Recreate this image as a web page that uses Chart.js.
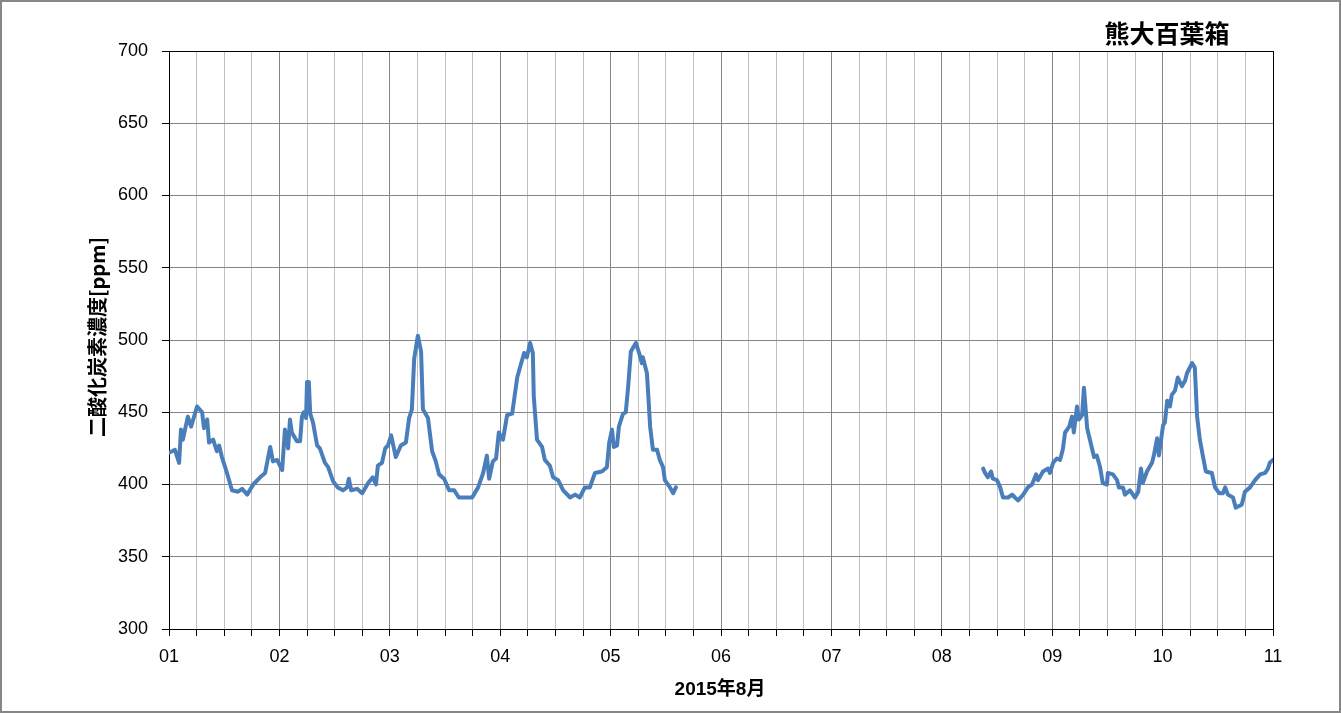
<!DOCTYPE html>
<html>
<head>
<meta charset="utf-8">
<script src="https://cdn.jsdelivr.net/npm/chart.js@4"></script>
<style>
  html, body { margin: 0; padding: 0; background: #fff; }
  #wrap { width: 1341px; height: 713px; }
</style>
</head>
<body>
<div id="wrap"><canvas id="co2Chart" width="1341" height="713"></canvas></div>
<script>
// hours since 2015-08-01 00:00, and CO2 ppm
const hours1 = [0,1.3,2.2,2.6,3.0,4.1,4.8,6.1,7.2,7.6,8.3,8.7,9.6,10.4,10.9,11.5,12.6,13.7,15.0,15.9,17.0,18.3,19.8,20.9,22.0,22.6,23.5,
  24.6,25.2,25.9,26.3,26.7,27.8,28.5,28.9,29.3,29.8,30.0,30.4,30.7,31.3,32.2,32.8,33.9,34.6,35.7,36.7,37.8,38.7,39.1,39.6,40.9,42.0,43.3,44.3,45.0,45.4,46.3,47.0,47.6,
  48.3,49.3,50.4,51.5,52.2,52.8,53.3,54.1,54.8,55.2,56.3,57.2,58.0,58.7,59.8,60.9,62.0,63.0,64.6,65.9,67.2,68.3,69.1,69.6,70.4,71.1,71.7,
  72.6,73.5,74.6,75.7,76.3,77.2,77.8,78.5,79.1,79.3,80.0,81.1,81.7,82.8,83.5,84.6,85.7,87.2,88.3,89.3,90.4,91.5,92.6,94.1,95.2,95.7,
  96.3,96.7,97.4,97.8,98.7,99.3,99.8,100.4,101.5,102.2,102.8,103.0,103.9,104.6,105.2,106.1,106.7,107.4,107.8,108.9,109.6,110.2];
const co2a = [422,424,415,438,431,447,440,454,450,439,445,429,431,423,427,419,408,396,395,397,393,400,405,408,426,416,417,
  410,438,425,445,436,430,430,447,450,446,471,471,449,443,427,425,415,412,402,398,396,398,404,396,397,394,401,405,400,413,415,425,427,
  434,419,427,429,446,452,487,503,492,452,446,423,416,407,404,396,396,391,391,391,398,408,420,404,416,418,436,
  431,448,449,474,481,491,488,498,491,461,431,426,417,413,405,403,396,391,393,391,398,398,408,409,412,429,
  438,426,427,440,449,450,467,492,498,491,484,488,477,440,424,424,417,412,403,398,394,398];

const hours2 = [177.0,177.4,178.0,178.7,179.1,180.0,180.7,181.3,182.4,183.3,183.9,184.6,185.7,186.7,187.6,188.5,188.9,190.0,191.1,191.5,
  192.2,193.0,193.7,194.3,194.8,195.7,196.3,196.7,197.4,197.8,198.5,198.9,199.6,200.2,201.1,201.7,202.4,203.0,203.9,204.1,205.2,206.1,206.5,207.4,207.8,208.9,210.0,210.7,211.3,211.7,212.6,213.7,214.1,214.8,215.2,
  216.1,216.5,217.0,217.6,218.0,218.7,219.3,220.2,220.9,221.3,222.4,223.0,223.5,224.1,224.8,225.4,226.7,227.4,228.3,229.1,229.6,230.2,231.3,231.9,233.2,233.9,235.0,236.1,237.2,238.3,238.9,239.3,240.0];
const co2b = [411,408,405,409,404,403,398,391,391,393,391,389,393,398,400,407,403,409,411,408,
  415,418,417,424,436,440,447,436,454,445,448,467,439,431,419,420,412,401,400,408,407,403,398,398,393,396,391,395,411,401,409,415,420,432,420,
  441,443,458,454,462,465,474,468,472,477,484,481,447,431,419,409,408,398,394,394,398,393,391,384,386,395,398,403,407,408,411,415,417];

const dayLabels = ['01','02','03','04','05','06','07','08','09','10','11'];
const yTicks = [300,350,400,450,500,550,600,650,700];

const points = [];
hours1.forEach((h, i) => points.push({x: h, y: co2a[i]}));
points.push({x: 143, y: null}); // no data
hours2.forEach((h, i) => points.push({x: h, y: co2b[i]}));

const frameAndText = {
  id: 'frameAndText',
  beforeDatasetsDraw(chart) {
    const {ctx, chartArea: a} = chart;
    ctx.save();
    ctx.strokeStyle = '#000';
    ctx.lineWidth = 1;
    ctx.strokeRect(Math.round(a.left) + 0.5, Math.round(a.top) + 0.5, Math.round(a.right - a.left), Math.round(a.bottom - a.top));
    ctx.restore();
  },
  afterDraw(chart) {
    const ctx = chart.ctx;
    ctx.save();
    ctx.fillStyle = '#000';
    ctx.textAlign = 'center';
    ctx.textBaseline = 'middle';
    ctx.font = "bold 25px 'Noto Sans CJK JP'";
    ctx.fillText('熊大百葉箱', 1167, 33);
    ctx.font = "bold 19px 'Liberation Sans', 'Noto Sans CJK JP'";
    ctx.fillText('2015年8月', 720, 690);
    ctx.translate(97, 337);
    ctx.rotate(-Math.PI / 2);
    ctx.font = "bold 20px 'Noto Sans CJK JP'";
    ctx.fillText('二酸化炭素濃度[ppm]', 0, 0);
    ctx.restore();
    ctx.save();
    ctx.strokeStyle = '#878787';
    ctx.lineWidth = 2;
    ctx.strokeRect(1, 1, chart.width - 2, chart.height - 2);
    ctx.restore();
  }
};

const ctx = document.getElementById('co2Chart').getContext('2d');
const myChart = new Chart(ctx, {
  type: 'line',
  data: {
    datasets: [{
      label: 'CO2',
      data: points,
      borderColor: '#4a7ebb',
      borderWidth: 4,
      borderJoinStyle: 'round',
      borderCapStyle: 'round',
      pointRadius: 0,
      tension: 0,
      spanGaps: false
    }]
  },
  options: {
    responsive: false,
    animation: false,
    layout: { padding: { top: 51, right: 68, left: 0, bottom: 0 } },
    plugins: { legend: { display: false }, tooltip: { enabled: false } },
    scales: {
      x: {
        type: 'linear',
        min: 0,
        max: 240,
        afterFit: s => { s.height = 84; },
        afterBuildTicks: s => { s.ticks = []; for (let h = 0; h <= 240; h += 6) s.ticks.push({value: h}); },
        ticks: {
          autoSkip: false,
          maxRotation: 0,
          padding: 10,
          color: '#000',
          font: { family: "'Liberation Sans'", size: 18 },
          callback: v => (v % 24 === 0 ? dayLabels[v / 24] : '')
        },
        grid: {
          color: c => (c.tick && c.tick.value % 24 === 0 ? '#868686' : '#c0c0c0'),
          tickColor: '#000',
          tickLength: 7
        },
        border: { color: '#000' }
      },
      y: {
        min: 300,
        max: 700,
        afterFit: s => { s.width = 169; },
        afterBuildTicks: s => { s.ticks = yTicks.map(v => ({value: v})); },
        ticks: {
          padding: 14,
          color: '#000',
          font: { family: "'Liberation Sans'", size: 18 }
        },
        grid: { color: '#868686', tickColor: '#000', tickLength: 7 },
        border: { color: '#000' }
      }
    }
  },
  plugins: [frameAndText]
});
</script>
</body>
</html>
